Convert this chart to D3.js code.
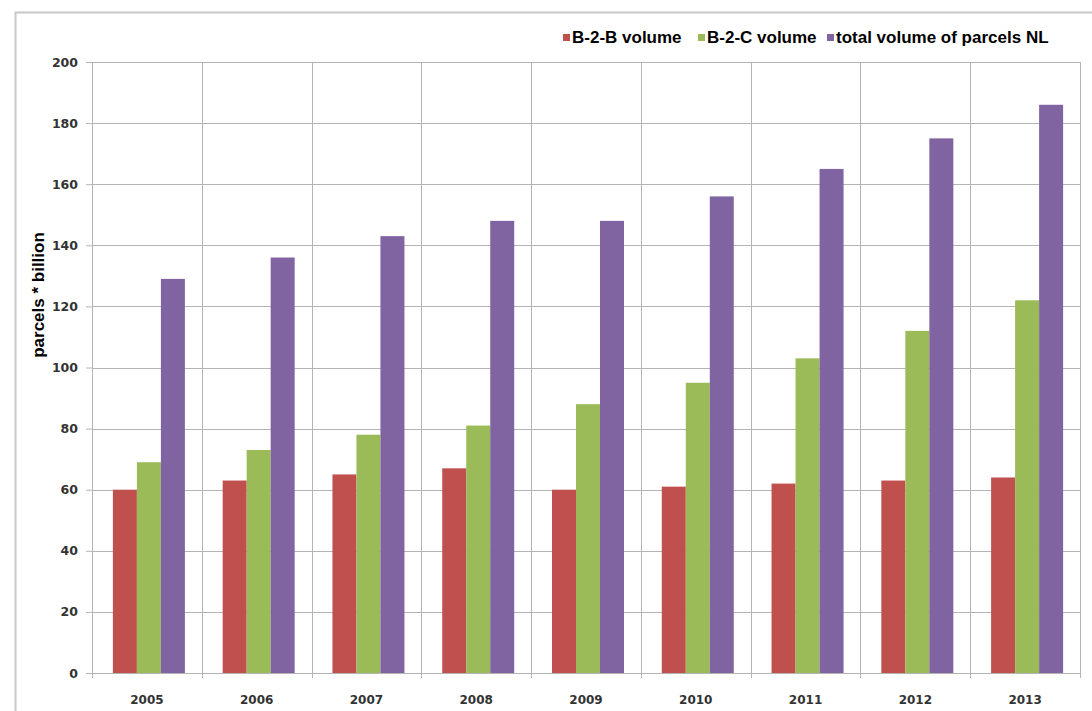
<!DOCTYPE html>
<html>
<head>
<meta charset="utf-8">
<script src="https://cdn.jsdelivr.net/npm/d3@7"></script>
<style>
  body { margin: 0; background: #fff; }
  svg { display: block; }
</style>
</head>
<body>
<svg class="chart"></svg>
<script>
var width = 1092
var height = 711
var margin = {top: 62, right: 12, bottom: 38, left: 92}

// data
let years = ["2005", "2006", "2007", "2008", "2009", "2010", "2011", "2012", "2013"]
let seriesNames = ["B-2-B volume", "B-2-C volume", "total volume of parcels NL"]
let b2b = [60, 63, 65, 67, 60, 61, 62, 63, 64]
let b2c = [69, 73, 78, 81, 88, 95, 103, 112, 122]
let total = [129, 136, 143, 148, 148, 156, 165, 175, 186]
let yTicks = [0, 20, 40, 60, 80, 100, 120, 140, 160, 180, 200]
let colors = ["#c0504d", "#9bbb59", "#8064a2"]

let seriesValues = [b2b, b2c, total]

let svg = d3.select(".chart")
  .attr("width", width)
  .attr("height", height)

// outer frame
svg.append("path")
  .attr("d", "M15.5," + height + "L15.5,12.5L" + width + ",12.5")
  .attr("fill", "none")
  .attr("stroke", "#c8c8c8")
  .attr("stroke-width", 2)

let plotW = width - margin.left - margin.right
let plotH = height - margin.top - margin.bottom

let canvas = svg.append("g")
  .attr("transform", "translate(" + margin.left + "," + margin.top + ")")

let x0 = d3.scaleBand()
  .domain(years)
  .range([0, plotW])

let x1 = d3.scaleBand()
  .domain(d3.range(seriesNames.length))
  .range([0, 72])

let y = d3.scaleLinear()
  .domain([0, 200])
  .range([plotH, 0])

// horizontal grid lines
canvas.append("g")
  .selectAll("line")
  .data(yTicks)
  .join("line")
  .attr("x1", 0)
  .attr("x2", plotW)
  .attr("y1", d => Math.round(y(d)) + 0.5)
  .attr("y2", d => Math.round(y(d)) + 0.5)
  .attr("stroke", "#b4b4b4")

// vertical category separators
canvas.append("g")
  .selectAll("line")
  .data(d3.range(years.length + 1))
  .join("line")
  .attr("x1", i => Math.round(i * x0.step()) + 0.5)
  .attr("x2", i => Math.round(i * x0.step()) + 0.5)
  .attr("y1", 0)
  .attr("y2", plotH + 5)
  .attr("stroke", "#b4b4b4")

// bars
let groups = canvas.append("g")
  .selectAll("g")
  .data(years)
  .join("g")
  .attr("transform", d => "translate(" + (x0(d) + (x0.bandwidth() - x1.range()[1]) / 2 + 2) + ",0)")

groups.selectAll("rect")
  .data((d, i) => seriesValues.map((s, k) => ({k: k, v: s[i]})))
  .join("rect")
  .attr("x", d => x1(d.k))
  .attr("width", x1.bandwidth())
  .attr("y", d => y(d.v))
  .attr("height", d => plotH - y(d.v))
  .attr("fill", d => colors[d.k])

// y axis
let y_axis = d3.axisLeft(y)
  .tickValues(yTicks)
  .tickSize(6)
  .tickPadding(8)

let ya = canvas.append("g")
  .call(y_axis)
ya.select(".domain").attr("stroke", "#b4b4b4")
ya.selectAll(".tick line").attr("stroke", "#b4b4b4")
ya.selectAll("text")
  .attr("font-family", "'DejaVu Sans', sans-serif")
  .attr("font-size", 12.5)
  .attr("font-weight", "bold")
  .attr("fill", "#333")

// x axis labels
let x_axis = d3.axisBottom(x0)
  .tickSize(0)
  .tickPadding(22)

let xa = canvas.append("g")
  .attr("transform", "translate(0," + plotH + ")")
  .call(x_axis)
xa.select(".domain").attr("stroke", "#b4b4b4")
xa.selectAll("text")
  .attr("font-family", "'DejaVu Sans', sans-serif")
  .attr("font-size", 12)
  .attr("font-weight", "bold")
  .attr("fill", "#333")

// y axis title
svg.append("text")
  .attr("transform", "translate(44,295) rotate(-90)")
  .attr("text-anchor", "middle")
  .attr("font-family", "'Liberation Sans', Arial, sans-serif")
  .attr("font-weight", "bold")
  .attr("font-size", 17)
  .text("parcels * billion")

// legend
let legendX = [563, 698, 827]
let legend = svg.append("g")
  .selectAll("g")
  .data(seriesNames)
  .join("g")
  .attr("transform", (d, i) => "translate(" + legendX[i] + ",37)")

legend.append("rect")
  .attr("x", 0)
  .attr("y", -3)
  .attr("width", 7)
  .attr("height", 7)
  .attr("fill", (d, i) => colors[i])

legend.append("text")
  .attr("x", 9)
  .attr("y", 6)
  .attr("font-family", "'Liberation Sans', Arial, sans-serif")
  .attr("font-weight", "bold")
  .attr("font-size", 17)
  .text(d => d)
</script>
</body>
</html>
